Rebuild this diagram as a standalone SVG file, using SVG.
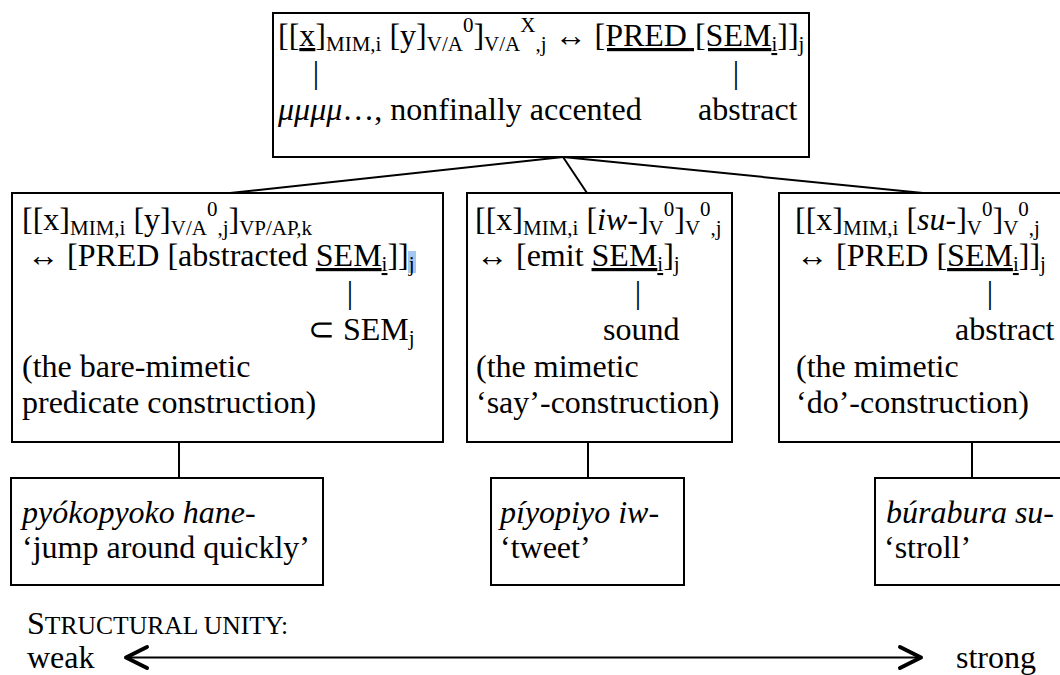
<svg xmlns="http://www.w3.org/2000/svg" width="1060" height="675" viewBox="0 0 1060 675">
<style>
.t{font-family:"Liberation Serif","Times New Roman",serif;font-size:32px;fill:#000}
.s{font-size:21px}
.it{font-style:italic}
.u{text-decoration:underline}
.sc{font-size:25.6px}
.box{fill:#fff;stroke:#000;stroke-width:2}
.ln{stroke:#000;stroke-width:2;fill:none}
.ah{stroke:#000;stroke-width:4;fill:none;stroke-linecap:round;stroke-linejoin:round}
</style>
<rect width="1060" height="675" fill="#fff"/>
<g id="connectors">
<line class="ln" x1="563" y1="157" x2="230" y2="193"/>
<line class="ln" x1="563" y1="157" x2="587" y2="193"/>
<line class="ln" x1="563" y1="157" x2="923" y2="193"/>
<line class="ln" x1="179" y1="442" x2="179" y2="478"/>
<line class="ln" x1="588" y1="442" x2="588" y2="478"/>
<line class="ln" x1="972" y1="442" x2="972" y2="478"/>
</g>
<g id="top">
<rect class="box" x="273" y="13" width="536" height="144"/>
<text class="t" x="278" y="46">[[<tspan class="u">x</tspan>]<tspan class="s" dy="5">MIM,i</tspan><tspan dy="-5"> [y]</tspan><tspan class="s" dy="5">V/A</tspan><tspan class="s" dy="-19">0</tspan><tspan dy="14">]</tspan><tspan class="s" dy="5">V/A</tspan><tspan class="s" dy="-19">X</tspan><tspan class="s" dy="19">,j</tspan><tspan dy="-5"> ↔ </tspan><tspan class="u">[PRED [SEM</tspan><tspan class="s u" dy="5">i</tspan><tspan class="u" dy="-5">]]</tspan><tspan class="s" dy="5">j</tspan></text>
<text class="t" x="316" y="83" text-anchor="middle">|</text>
<text class="t" x="736" y="83" text-anchor="middle">|</text>
<text class="t" x="278" y="120"><tspan class="it">μμμμ</tspan>…, nonfinally accented</text>
<text class="t" x="698" y="120">abstract</text>
</g>
<g id="bare">
<rect class="box" x="12" y="193" width="431" height="249"/>
<rect x="408" y="251" width="8" height="22" fill="#a6c6f2"/>
<text class="t" x="22" y="230">[[x]<tspan class="s" dy="5">MIM,i</tspan><tspan dy="-5"> [y]</tspan><tspan class="s" dy="5">V/A</tspan><tspan class="s" dy="-19">0</tspan><tspan class="s" dy="19">,j</tspan><tspan dy="-5">]</tspan><tspan class="s" dy="5">VP/AP,k</tspan></text>
<text class="t" x="27" y="266">↔ [PRED [abstracted <tspan class="u">SEM</tspan><tspan class="s u" dy="5">i</tspan><tspan dy="-5">]]</tspan><tspan class="s" dy="5">j</tspan></text>
<text class="t" x="350" y="303" text-anchor="middle">|</text>
<text class="t" x="308" y="340">⊂ SEM<tspan class="s" dy="5">j</tspan></text>
<text class="t" x="22" y="377">(the bare-mimetic</text>
<text class="t" x="22" y="413">predicate construction)</text>
</g>
<g id="say">
<rect class="box" x="467" y="193" width="265" height="249"/>
<text class="t" x="475" y="230">[[x]<tspan class="s" dy="5">MIM,i</tspan><tspan dy="-5"> [<tspan class="it">iw</tspan>-]</tspan><tspan class="s" dy="5">V</tspan><tspan class="s" dy="-19">0</tspan><tspan dy="14">]</tspan><tspan class="s" dy="5">V</tspan><tspan class="s" dy="-19">0</tspan><tspan class="s" dy="19">,j</tspan></text>
<text class="t" x="476" y="266">↔ [emit <tspan class="u">SEM</tspan><tspan class="s u" dy="5">i</tspan><tspan dy="-5">]</tspan><tspan class="s" dy="5">j</tspan></text>
<text class="t" x="638" y="303" text-anchor="middle">|</text>
<text class="t" x="603" y="340">sound</text>
<text class="t" x="476" y="377">(the mimetic</text>
<text class="t" x="476" y="413">‘say’-construction)</text>
</g>
<g id="do">
<rect class="box" x="779" y="193" width="290" height="249"/>
<text class="t" x="795" y="230">[[x]<tspan class="s" dy="5">MIM,i</tspan><tspan dy="-5"> [<tspan class="it">su</tspan>-]</tspan><tspan class="s" dy="5">V</tspan><tspan class="s" dy="-19">0</tspan><tspan dy="14">]</tspan><tspan class="s" dy="5">V</tspan><tspan class="s" dy="-19">0</tspan><tspan class="s" dy="19">,j</tspan></text>
<text class="t" x="796" y="266">↔ [PRED [<tspan class="u">SEM</tspan><tspan class="s u" dy="5">i</tspan><tspan dy="-5">]]</tspan><tspan class="s" dy="5">j</tspan></text>
<text class="t" x="990" y="303" text-anchor="middle">|</text>
<text class="t" x="955" y="340">abstract</text>
<text class="t" x="796" y="377">(the mimetic</text>
<text class="t" x="796" y="413">‘do’-construction)</text>
</g>
<g id="ex1">
<rect class="box" x="11" y="478" width="312" height="107"/>
<text class="t" x="22" y="523"><tspan class="it">pyókopyoko hane</tspan>-</text>
<text class="t" x="22" y="558">‘jump around quickly’</text>
</g>
<g id="ex2">
<rect class="box" x="491" y="478" width="193" height="107"/>
<text class="t" x="500" y="523"><tspan class="it">píyopiyo iw</tspan>-</text>
<text class="t" x="500" y="558">‘tweet’</text>
</g>
<g id="ex3">
<rect class="box" x="875" y="478" width="195" height="107"/>
<text class="t" x="886" y="523"><tspan class="it">búrabura su</tspan>-</text>
<text class="t" x="884" y="558">‘stroll’</text>
</g>
<g id="scale">
<text class="t" x="27" y="634">S<tspan class="sc">TRUCTURAL UNITY:</tspan></text>
<text class="t" x="27" y="668">weak</text>
<line class="ln" x1="127" y1="657.5" x2="920" y2="657.5"/>
<polyline class="ah" points="147,647 126,657.5 147,668"/>
<polyline class="ah" points="900,647 921,657.5 900,668"/>
<text class="t" x="956" y="668">strong</text>
</g>
</svg>
